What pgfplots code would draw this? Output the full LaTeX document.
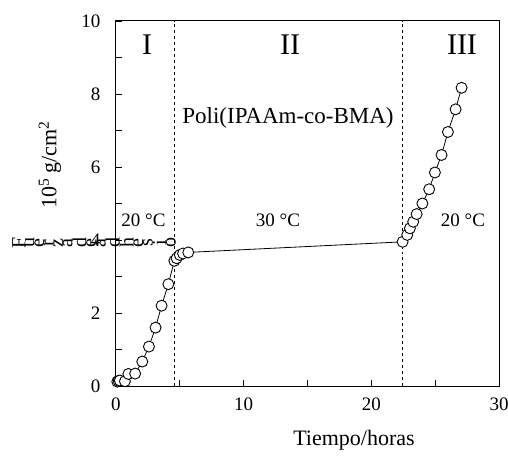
\documentclass[border=0pt]{standalone}
\usepackage{pgfplots}
\pgfplotsset{compat=1.18}
\usepackage{fontspec}
\setmainfont{Liberation Serif}
\newcommand{\fs}[1]{\fontsize{#1bp}{#1bp}\selectfont}
\newcommand{\rl}[1]{\raisebox{-.5\height}{\rotatebox{90}{#1}}}
\begin{document}
\begin{tikzpicture}
\useasboundingbox (-116bp,-73bp) rectangle (392bp,386bp);
\begin{axis}[
  at={(0,0)}, anchor=south west,
  scale only axis, width=383bp, height=365bp,
  xmin=0, xmax=30, ymin=0, ymax=10,
  axis line style={line width=1bp},
  xtick={0,5,...,30}, xticklabels={0,,10,,20,,30},
  ytick={0,1,...,10}, yticklabels={0,,2,,4,,6,,8,,10},
  tick align=inside, major tick length=6bp,
  xtick pos=bottom, ytick pos=left,
  tick style={line width=0.8bp, black},
  /pgf/number format/assume math mode=true,
  ticklabel style={font=\fs{19}},
  xticklabel style={yshift=-8bp},
  yticklabel style={xshift=-12bp},
  clip=false,
]
\addplot[black, dashed, line width=0.8bp] coordinates {(4.54,0) (4.54,10)};
\addplot[black, dashed, line width=0.8bp] coordinates {(22.45,0) (22.45,10)};
\addplot[black, line width=0.8bp, mark=*, mark size=5.5bp,
  mark options={fill=white, draw=black, line width=0.9bp}] coordinates {
(0.1,0.12)(0.2,0.14)(0.3,0.15)(0.7,0.13)(0.97,0.33)(1.5,0.34)(2.06,0.67)(2.58,1.08)
(3.1,1.6)(3.57,2.2)(4.1,2.79)(4.57,3.43)(4.75,3.5)(5.0,3.59)(5.25,3.63)(5.66,3.66)
(22.45,3.95)(22.81,4.14)(23.02,4.32)(23.28,4.5)(23.55,4.71)(24.0,5.0)(24.53,5.39)
(24.98,5.85)(25.5,6.33)(26.0,6.96)(26.6,7.58)(27.07,8.17)};
\end{axis}
\node[font=\fs{30}] at (31bp,341bp) {I};
\node[font=\fs{30}] at (174bp,341bp) {II};
\node[font=\fs{30}] at (346bp,341bp) {III};
\node[font=\fs{23}, fill=white, inner sep=1bp] at (172bp,268bp) {Poli(IPAAm-co-BMA)};
\node[font=\fs{19}] at (27.5bp,166bp) {20 °C};
\node[font=\fs{19}] at (162bp,166bp) {30 °C};
\node[font=\fs{19}] at (347bp,166bp) {20 °C};
\node[font=\fs{22}, rotate=90] at (-66bp,221bp) {10\textsuperscript{5} g/cm\textsuperscript{2}};
\node[font=\fs{22}] at (238bp,-54bp) {Tiempo/horas};
\node[font=\fs{20}, anchor=west, inner sep=0pt] at (-104bp,143bp)
  {\rl{F}\rl{u}\rl{e}\rl{r}\rl{z}\rl{a}\rl{d}\rl{e}\rl{a}\rl{d}\rl{h}\rl{e}\rl{s}\rl{i}\rl{o}};
\end{tikzpicture}
\end{document}
